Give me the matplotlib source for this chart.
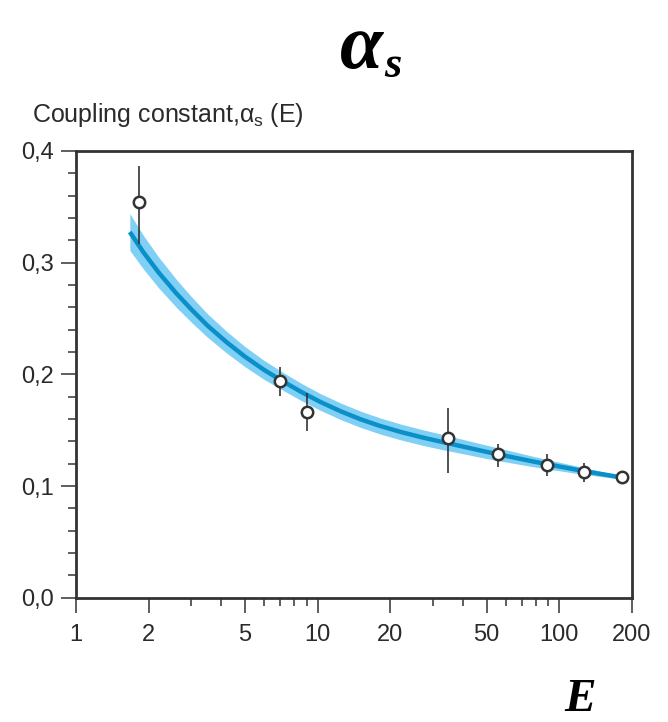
import matplotlib
matplotlib.use("Agg")
import matplotlib.pyplot as plt
from matplotlib.ticker import FixedLocator, FixedFormatter, NullFormatter

plt.rcParams["font.family"] = ["Liberation Sans", "DejaVu Sans"]
plt.rcParams["mathtext.fontset"] = "custom"
plt.rcParams["mathtext.rm"] = "Liberation Sans"
plt.rcParams["mathtext.it"] = "Liberation Sans"
plt.rcParams["mathtext.bf"] = "Liberation Sans:bold"

# Measurements of the strong coupling at different energies (GeV)
energy_pts = [1.82, 6.99, 9.07, 34.8, 56.0, 88.8, 127.0, 182.0]
alpha_pts = [0.354, 0.194, 0.166, 0.143, 0.129, 0.119, 0.113, 0.108]
err_up = [0.033, 0.013, 0.017, 0.027, 0.009, 0.010, 0.008, 0.0]
err_down = [0.037, 0.013, 0.017, 0.031, 0.012, 0.010, 0.009, 0.0]

# Running-coupling curve and the half-width of its uncertainty band
energy_fit = [1.67, 1.9, 2.2, 2.6, 3.0, 3.5, 4.2, 5.0, 6.0, 7.2, 8.6, 10.3,
              12.5, 15.0, 18.0, 22.0, 27.0, 33.0, 40.0, 50.0, 62.0, 77.0,
              95.0, 118.0, 145.0, 181.0]
alpha_fit = [0.3275, 0.3094, 0.2911, 0.2726, 0.2582, 0.2437, 0.2288, 0.2159,
             0.2040, 0.1936, 0.1840, 0.1751, 0.1668, 0.1599, 0.1540, 0.1485,
             0.1436, 0.1393, 0.1353, 0.1306, 0.1264, 0.1222, 0.1184, 0.1146,
             0.1112, 0.1077]
band_half = [0.0165, 0.0150, 0.0138, 0.0125, 0.0115, 0.0105, 0.0097, 0.0090,
             0.0085, 0.0080, 0.0077, 0.0075, 0.0074, 0.0073, 0.0072, 0.0071,
             0.0070, 0.0068, 0.0064, 0.0060, 0.0054, 0.0047, 0.0040, 0.0033,
             0.0024, 0.0015]

x_major = [1, 2, 5, 10, 20, 50, 100, 200]
x_minor = [3, 4, 6, 7, 8, 9, 30, 40, 60, 70, 80, 90]
y_major = [0.0, 0.1, 0.2, 0.3, 0.4]
y_labels = ["0,0", "0,1", "0,2", "0,3", "0,4"]
y_minor = [0.02, 0.04, 0.06, 0.08, 0.12, 0.14, 0.16, 0.18, 0.22, 0.24,
           0.26, 0.28, 0.32, 0.34, 0.36, 0.38]

dark = "#333333"
band_color = "#80D0F5"
line_color = "#0A8FC9"

fig = plt.figure(figsize=(6.68, 7.22), dpi=100)
ax = fig.add_axes([76 / 668, 124.3 / 722, 556 / 668, 446.7 / 722])

lower = [a - h for a, h in zip(alpha_fit, band_half)]
upper = [a + h for a, h in zip(alpha_fit, band_half)]
ax.fill_between(energy_fit, lower, upper, color=band_color, lw=0, zorder=2)
ax.plot(energy_fit, alpha_fit, color=line_color, lw=3.2, zorder=3,
        solid_capstyle="butt", solid_joinstyle="round")

ax.errorbar(energy_pts, alpha_pts, yerr=[err_down, err_up], fmt="o",
            mfc="white", mec=dark, mew=1.8, ms=8.2, ecolor=dark,
            elinewidth=1.2, capsize=0, zorder=5)

ax.set_xscale("log")
ax.set_xlim(1, 200)
ax.set_ylim(0, 0.4)

ax.xaxis.set_major_locator(FixedLocator(x_major))
ax.xaxis.set_major_formatter(FixedFormatter([str(v) for v in x_major]))
ax.xaxis.set_minor_locator(FixedLocator(x_minor))
ax.xaxis.set_minor_formatter(NullFormatter())
ax.yaxis.set_major_locator(FixedLocator(y_major))
ax.yaxis.set_major_formatter(FixedFormatter(y_labels))
ax.yaxis.set_minor_locator(FixedLocator(y_minor))

ax.tick_params(which="both", direction="out", color=dark, width=1.1,
               labelsize=17, labelcolor="#2a2a2a")
ax.tick_params(which="major", length=11)
ax.tick_params(which="minor", length=5.5)
ax.tick_params(axis="x", which="major", pad=8)
ax.tick_params(axis="y", which="major", pad=5)
ax.tick_params(top=False, right=False)

for sp in ax.spines.values():
    sp.set_color(dark)
    sp.set_linewidth(2.0)

fig.text(31.7 / 668, 1 - 121.7 / 722, r"Coupling constant,$\alpha_{\mathrm{s}}$ (E)",
         fontsize=18, color="#2a2a2a", ha="left", va="baseline")

serif = ["Liberation Serif", "DejaVu Serif"]
fig.text(340 / 668, 1 - 68 / 722, "α", fontsize=56, family=serif,
         weight="bold", style="italic", ha="left", va="baseline", color="black")
fig.text(384 / 668, 1 - 77 / 722, "s", fontsize=32, family=serif,
         weight="bold", style="italic", ha="left", va="baseline", color="black")
fig.text(564 / 668, 1 - 711 / 722, "E", fontsize=34, family=serif,
         weight="bold", style="italic", ha="left", va="baseline", color="black")

fig.savefig("out.png", dpi=100)
